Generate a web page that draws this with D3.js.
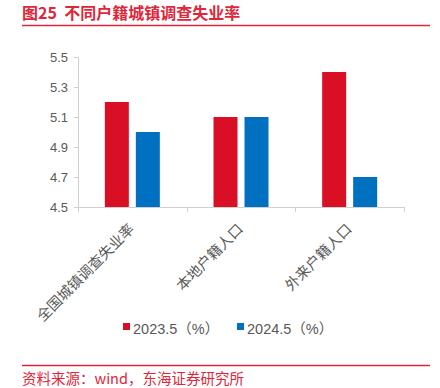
<!DOCTYPE html>
<html>
<head>
<meta charset="utf-8">
<script src="https://cdn.jsdelivr.net/npm/d3@7"></script>
<style>
  body { margin: 0; background: #fff; }
  svg { font-family: "Noto Sans CJK SC", "Liberation Sans", sans-serif; }
</style>
</head>
<body>
<svg id="chart" width="440" height="388"></svg>
<script>
// chart data
const categories = ["全国城镇调查失业率", "本地户籍人口", "外来户籍人口"];
const seriesNames = ["2023.5（%）", "2024.5（%）"];
const values2023 = [5.2, 5.1, 5.4];
const values2024 = [5.0, 5.1, 4.7];
const yTicks = [4.5, 4.7, 4.9, 5.1, 5.3, 5.5];
const colors = ["#d90f26", "#0070c0"];

const svg = d3.select("#chart");
const red = "#e0263a";

// title + rules
svg.append("text")
  .attr("x", 22).attr("y", 19)
  .attr("fill", red).attr("font-size", 16).attr("font-weight", "bold")
  .style("white-space", "pre")
  .text("图25  不同户籍城镇调查失业率");
svg.append("line").attr("x1", 22).attr("x2", 430).attr("y1", 25.5).attr("y2", 25.5)
  .attr("stroke", red).attr("stroke-width", 1.5);
svg.append("line").attr("x1", 22).attr("x2", 430).attr("y1", 365.5).attr("y2", 365.5)
  .attr("stroke", red).attr("stroke-width", 1.5);
svg.append("text")
  .attr("x", 22).attr("y", 384)
  .attr("fill", red).attr("font-size", 14.5)
  .text("资料来源：wind，东海证券研究所");

// plot area
const plotLeft = 78, plotRight = 404, plotTop = 57, plotBottom = 207;
const x = d3.scaleBand().domain(categories).range([plotLeft, plotRight]).paddingInner(0).paddingOuter(0);
const y = d3.scaleLinear().domain([4.5, 5.5]).range([plotBottom, plotTop]);
const barW = 24, gap = 7;

// y axis
const yAxis = svg.append("g").attr("transform", `translate(${plotLeft},0)`)
  .call(d3.axisLeft(y).tickValues(yTicks).tickFormat(d3.format(".1f")).tickSize(4).tickPadding(6));
yAxis.select(".domain").attr("stroke", "#d0d0d0");
yAxis.selectAll(".tick line").attr("stroke", "#d0d0d0");
yAxis.selectAll("text").attr("fill", "#595959").attr("font-size", 13)
  .attr("font-family", "Liberation Sans, sans-serif");

// x axis
const xAxis = svg.append("g").attr("transform", `translate(0,${plotBottom})`)
  .call(d3.axisBottom(x).tickSize(0).tickFormat(""));
xAxis.select(".domain").attr("stroke", "#d0d0d0");
[plotLeft, ...categories.map(c => x(c) + x.bandwidth())].forEach(px => {
  xAxis.append("line").attr("x1", Math.round(px) + 0.5).attr("x2", Math.round(px) + 0.5)
    .attr("y1", 0).attr("y2", 5).attr("stroke", "#d0d0d0");
});

// bars
const series = [values2023, values2024];
series.forEach((vals, si) => {
  svg.append("g").selectAll("rect")
    .data(vals)
    .join("rect")
    .attr("x", (d, i) => x(categories[i]) + x.bandwidth() / 2 + (si === 0 ? -barW - gap / 2 : gap / 2))
    .attr("y", d => y(d))
    .attr("width", barW)
    .attr("height", d => plotBottom - y(d))
    .attr("fill", colors[si]);
});

// rotated category labels
svg.append("g").selectAll("text")
  .data(categories)
  .join("text")
  .attr("transform", d => `translate(${x(d) + x.bandwidth() / 2 + 3},${plotBottom + 23}) rotate(-45)`)
  .attr("text-anchor", "end")
  .attr("fill", "#595959")
  .attr("font-size", 14.5)
  .text(d => d);

// legend
const legendX = [123, 237];
seriesNames.forEach((name, i) => {
  const g = svg.append("g").attr("transform", `translate(${legendX[i]},329)`);
  g.append("rect").attr("x", 0).attr("y", -6).attr("width", 7).attr("height", 7).attr("fill", colors[i]);
  g.append("text").attr("x", 10).attr("y", 1).attr("dominant-baseline", "middle")
    .attr("font-family", "Liberation Sans, Noto Sans CJK SC, sans-serif")
    .attr("fill", "#595959").attr("font-size", 14.5).text(name);
});
</script>
</body>
</html>
